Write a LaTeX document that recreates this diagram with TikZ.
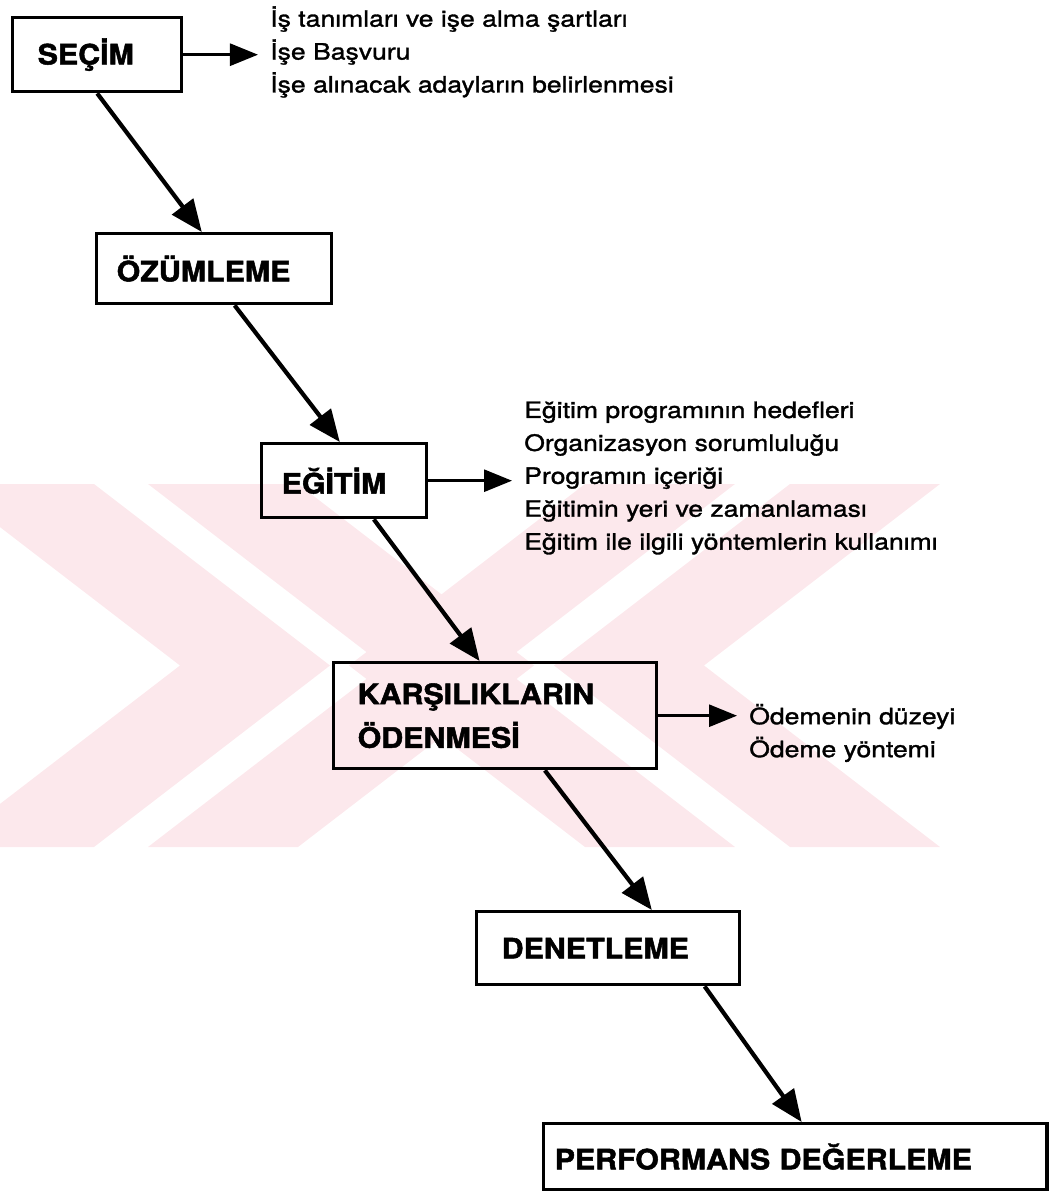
\documentclass[tikz,border=0pt]{standalone}
\usepackage{fontspec}
\setmainfont{TeX Gyre Heros}[FakeStretch=1.18, FakeBold=1.4]
\newfontfamily\boxfont{TeX Gyre Heros}[FakeStretch=1.08, FakeBold=1.8]
\usetikzlibrary{arrows.meta}
\definecolor{wmpink}{RGB}{252,232,236}

\begin{document}
\begin{tikzpicture}[x=0.025cm, y=-0.025cm,
    stage/.style={draw, line width=2.4pt, anchor=north west, align=left, inner ysep=0pt,
        font=\boxfont\bfseries\fontsize{20}{31}\selectfont},
    items/.style={anchor=west, align=left, inner xsep=0.3cm, inner ysep=0pt,
        font=\fontsize{16}{23.4}\selectfont},
    flow/.style={line width=3pt, -{Triangle[length=0.8cm, width=0.65cm]}},
    branch/.style={line width=2pt, -{Triangle[length=0.7cm, width=0.55cm]}}]

    \useasboundingbox (0,0) rectangle (1052,1194);

    % pale watermark behind the chart
    \begin{scope}
        \clip (0,0) rectangle (1052,1194);
        \fill[wmpink] (-56,484) -- (94,484) -- (330,665.5) -- (94,847) -- (-56,847) -- (180,665.5) -- cycle;
        \fill[wmpink] (148,484) -- (298,484) -- (534,665.5) -- (298,847) -- (148,847) -- (384,665.5) -- cycle;
        \fill[wmpink] (735,484) -- (585,484) -- (349,665.5) -- (585,847) -- (735,847) -- (499,665.5) -- cycle;
        \fill[wmpink] (940,484) -- (790,484) -- (554,665.5) -- (790,847) -- (940,847) -- (704,665.5) -- cycle;
    \end{scope}

    % these are the stages
    \node[stage, text width=2.975cm, inner xsep=0.625cm, minimum height=1.85cm] (secim) at (11,16) {SEÇİM};
    \node[stage, text width=4.875cm, inner xsep=0.5cm, minimum height=1.75cm] (ozum) at (95,232) {ÖZÜMLEME};
    \node[stage, text width=3.125cm, inner xsep=0.5cm, minimum height=1.85cm] (egitim) at (260,442) {EĞİTİM};
    \node[stage, text width=6.875cm, inner xsep=0.6cm, minimum height=2.65cm] (karsi) at (332,661) {KARŞILIKLARIN\\ÖDENMESİ};
    \node[stage, text width=5.325cm, inner xsep=0.625cm, minimum height=1.825cm] (denet) at (475,910) {DENETLEME};
    \node[stage, text width=12.025cm, inner xsep=0.275cm, minimum height=1.65cm] (perf) at (542,1122) {PERFORMANS DEĞERLEME};

    % these are the lists beside them
    \node[items] (list1) at (258,52) {İş tanımları ve işe alma şartları\\İşe Başvuru\\İşe alınacak adayların belirlenmesi};
    \node[items] (list2) at (512,478) {Eğitim programının hedefleri\\Organizasyon sorumluluğu\\Programın içeriği\\Eğitimin yeri ve zamanlaması\\Eğitim ile ilgili yöntemlerin kullanımı};
    \node[items] (list3) at (737,733) {Ödemenin düzeyi\\Ödeme yöntemi};

    \draw[flow] (secim.south) -- ([xshift=-0.31cm]ozum.north);
    \draw[flow] ([xshift=0.51cm]ozum.south) -- ([xshift=-0.11cm]egitim.north);
    \draw[flow] ([xshift=0.74cm]egitim.south) -- ([xshift=-0.39cm]karsi.north);
    \draw[flow] ([xshift=1.24cm]karsi.south) -- ([xshift=1.09cm]denet.north);
    \draw[flow] ([xshift=2.41cm]denet.south) -- ([xshift=0.16cm]perf.north);

    \draw[branch] (secim.east) -- (secim.east -| list1.west);
    \draw[branch] (egitim.east) -- (egitim.east -| list2.west);
    \draw[branch] (karsi.east) -- (karsi.east -| list3.west);

\end{tikzpicture}
\end{document}
